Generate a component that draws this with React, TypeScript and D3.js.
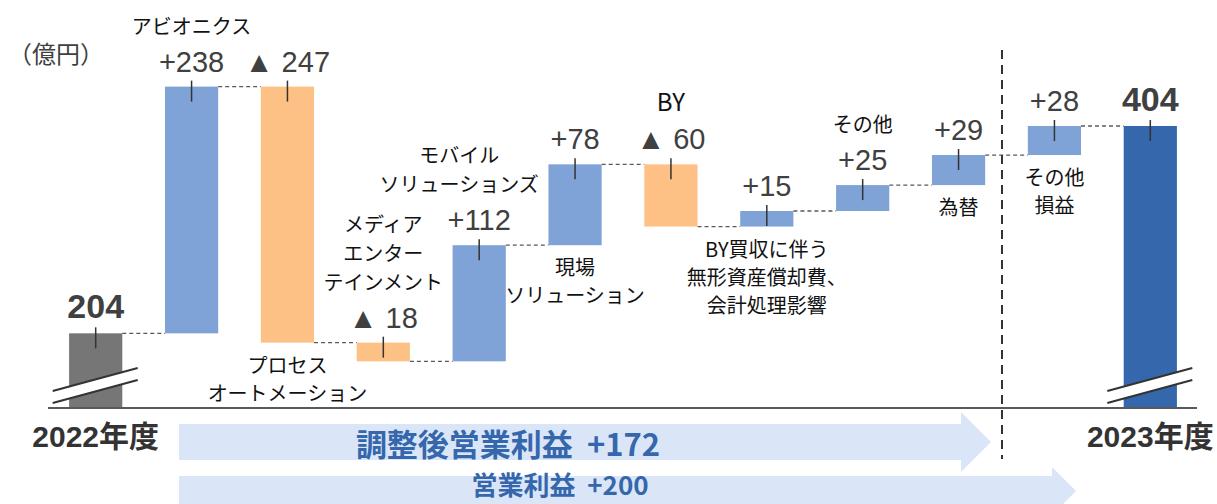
import React from "react";
import * as d3 from "d3";

// 億円, FY2022 -> FY2023 operating profit bridge
const categories = [
  "2022年度",
  "アビオニクス",
  "プロセスオートメーション",
  "メディアエンターテインメント",
  "モバイルソリューションズ",
  "現場ソリューション",
  "BY",
  "その他",
  "その他2",
  "為替",
  "その他損益",
  "2023年度",
];
const deltas = [204, 238, -247, -18, 112, 78, -60, 15, 25, 29, 28, 404];
const isTotal = [true, false, false, false, false, false, false, false, false, false, false, true];

// category captions (lines) and where they sit relative to the bar
const captionLines = [
  [],
  ["アビオニクス"],
  ["プロセス", "オートメーション"],
  ["メディア", "エンター", "テインメント"],
  ["モバイル", "ソリューションズ"],
  ["現場", "ソリューション"],
  ["BY"],
  ["BY買収に伴う", "無形資産償却費、", "会計処理影響"],
  ["その他"],
  ["為替"],
  ["その他", "損益"],
  [],
];
const captionSide = ["", "above", "below", "above", "above", "below", "above", "below", "above", "below", "below", ""];
const captionDx = [0, 0, 0, 0, -20, 0, 0, 0, 0, 0, 0, 0];
const captionSize = [20, 20, 20, 20, 20, 20, 24, 20, 20, 20, 20, 20];

const yearLabels = ["2022年度", "2023年度"];
const arrowLabels = ["調整後営業利益  +172", "営業利益  +200"];

const W = 1217;
const H = 504;
const axisY = 408;
const LATIN = "'Liberation Sans', Arial, 'Noto Sans CJK JP', sans-serif";
const CJK = "'Noto Sans CJK JP', 'Liberation Sans', sans-serif";

const colUp = "#7fa3d7";
const colDown = "#fdc085";
const colStart = "#767676";
const colEnd = "#3567ac";
const colArrow = "#dae6f7";
const colText = "#404040";

export default function App() {
  const x = d3.scaleBand().domain(categories).range([48, 1198]).paddingInner(0.445).paddingOuter(0.22);
  const y = d3.scaleLinear().domain([0, 404]).range([544.8, 126]);
  const bw = x.bandwidth();

  // running totals
  let run = 0;
  const bars = categories.map((c, i) => {
    const v = deltas[i];
    let from: number, to: number;
    if (isTotal[i]) {
      from = v;
      to = v;
      run = v;
    } else {
      from = run;
      to = run + v;
      run = to;
    }
    return { c, i, v, from, to, x0: x(c) as number };
  });

  const breakMark = (cx: number, key: string) => {
    const a = [cx - 43, 391];
    const b = [cx + 42, 368];
    const poly = `${a[0]},${a[1]} ${b[0]},${b[1]} ${b[0]},${b[1] + 12} ${a[0]},${a[1] + 12}`;
    return (
      <g key={key}>
        <polygon points={poly} fill="#fff" />
        <line x1={a[0]} y1={a[1]} x2={b[0]} y2={b[1]} stroke="#333" strokeWidth={2} />
        <line x1={a[0]} y1={a[1] + 12} x2={b[0]} y2={b[1] + 12} stroke="#333" strokeWidth={2} />
      </g>
    );
  };

  const arrow = (x0: number, tip: number, cy: number, bodyH: number, headH: number, headW: number) => {
    const hb = bodyH / 2;
    const hh = headH / 2;
    const xs = tip - headW;
    return `M${x0},${cy - hb} L${xs},${cy - hb} L${xs},${cy - hh} L${tip},${cy} L${xs},${cy + hh} L${xs},${cy + hb} L${x0},${cy + hb} Z`;
  };

  return (
    <svg width={W} height={H} style={{ position: "absolute", left: 0, top: 0, background: "#fff" }}>
      <text x={8} y={63} fontFamily={CJK} fontSize={24} fill={colText}>
        （億円）
      </text>

      {/* arrows under the axis */}
      <path d={arrow(179, 991, 442, 36, 60, 30)} fill={colArrow} />
      <path d={arrow(179, 1076, 491, 30, 48, 24)} fill={colArrow} />
      <text x={508} y={456} textAnchor="middle" fontFamily={CJK} fontWeight="bold" fontSize={31} fill="#3567ac" style={{ whiteSpace: "pre" }}>
        {arrowLabels[0]}
      </text>
      <text x={560} y={495} textAnchor="middle" fontFamily={CJK} fontWeight="bold" fontSize={26} fill="#3567ac" style={{ whiteSpace: "pre" }}>
        {arrowLabels[1]}
      </text>

      {/* connectors */}
      {bars.slice(0, -1).map((b, k) => {
        const n = bars[k + 1];
        return (
          <line
            key={"c" + k}
            x1={b.x0 + bw}
            x2={n.x0}
            y1={y(b.to)}
            y2={y(b.to)}
            stroke="#595959"
            strokeWidth={1.3}
            strokeDasharray="4,3"
          />
        );
      })}

      {/* bars */}
      {bars.map((b) => {
        const cx = b.x0 + bw / 2;
        let top: number, bottom: number, fill: string;
        if (isTotal[b.i]) {
          top = y(b.v);
          bottom = axisY;
          fill = b.i === 0 ? colStart : colEnd;
        } else {
          top = y(Math.max(b.from, b.to));
          bottom = y(Math.min(b.from, b.to));
          fill = b.v >= 0 ? colUp : colDown;
        }
        return (
          <g key={"b" + b.i}>
            <rect x={b.x0} y={top} width={bw} height={bottom - top} fill={fill} />
            <line x1={cx} x2={cx} y1={top - 6} y2={top + 15} stroke="#333" strokeWidth={1.5} />
          </g>
        );
      })}

      {breakMark(x(categories[0])! + bw / 2, "bk0")}
      {breakMark(x(categories[11])! + bw / 2, "bk1")}

      {/* axis */}
      <line x1={48} x2={1197} y1={axisY} y2={axisY} stroke="#595959" strokeWidth={2} />

      {/* separator */}
      <line x1={1002} x2={1002} y1={50} y2={459} stroke="#333" strokeWidth={2} strokeDasharray="9,6" />

      {/* value labels */}
      {bars.map((b) => {
        const cx = b.x0 + bw / 2;
        const topV = isTotal[b.i] ? b.v : Math.max(b.from, b.to);
        const ly = y(topV) - 15;
        if (isTotal[b.i]) {
          return (
            <text key={"v" + b.i} x={cx} y={ly} textAnchor="middle" fontFamily={LATIN} fontWeight="bold" fontSize={34} fill={colText}>
              {b.v}
            </text>
          );
        }
        const label = b.v >= 0 ? `+${b.v}` : `▲ ${Math.abs(b.v)}`;
        return (
          <text key={"v" + b.i} x={cx} y={ly} textAnchor="middle" fontFamily={LATIN} fontSize={29} fill={colText}>
            {label}
          </text>
        );
      })}

      {/* captions */}
      {bars.map((b) => {
        const lines = captionLines[b.i];
        if (!lines.length) return null;
        const cx = b.x0 + bw / 2 + captionDx[b.i];
        const lh = 29;
        let ys: number[];
        if (captionSide[b.i] === "above") {
          const last = y(Math.max(b.from, b.to)) - 15 - 38;
          ys = lines.map((_, k) => last - (lines.length - 1 - k) * lh);
        } else {
          const first = y(Math.min(b.from, b.to)) + 30;
          ys = lines.map((_, k) => first + k * 28);
        }
        return (
          <g key={"t" + b.i}>
            {lines.map((s, k) => (
              <text key={k} x={cx} y={ys[k]} textAnchor="middle" fontFamily={CJK} fontSize={captionSize[b.i]} fill="#111">
                {s}
              </text>
            ))}
          </g>
        );
      })}

      {/* year labels */}
      {[0, 11].map((i, k) => (
        <text
          key={"y" + i}
          x={(x(categories[i]) as number) + bw / 2}
          y={447}
          textAnchor="middle"
          fontFamily={LATIN}
          fontWeight="bold"
          fontSize={30}
          fill="#333"
        >
          {yearLabels[k]}
        </text>
      ))}
    </svg>
  );
}
